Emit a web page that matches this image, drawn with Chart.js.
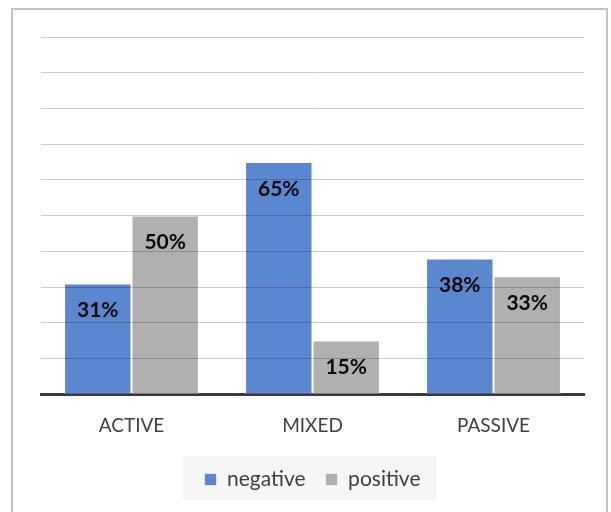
<!DOCTYPE html>
<html>
<head>
<meta charset="utf-8">
<script src="https://cdn.jsdelivr.net/npm/chart.js@4"></script>
<style>
  html, body { margin: 0; padding: 0; background: #fff; }
  #wrap { position: relative; width: 611px; height: 512px; }
</style>
</head>
<body>
<div id="wrap"><canvas id="chart" width="611" height="512"></canvas></div>
<script>
const categories = ['ACTIVE', 'MIXED', 'PASSIVE'];
const negative = [31, 65, 38];
const positive = [50, 15, 33];

const frame = {
    id: 'frame',
    beforeDraw(chart) {
        const c = chart.ctx;
        c.save();
        c.fillStyle = '#fff';
        c.fillRect(0, 0, chart.width, chart.height);
        c.strokeStyle = '#c4c4c4';
        c.lineWidth = 2;
        c.strokeRect(12, 9, 595, 600);
        // legend background
        const lg = chart.legend;
        if (lg && lg.legendHitBoxes.length) {
            const boxes = lg.legendHitBoxes;
            const x0 = boxes[0].left - 22;
            const last = boxes[boxes.length - 1];
            const x1 = last.left + last.width + 16;
            c.fillStyle = '#f6f6f6';
            c.fillRect(x0, 456, x1 - x0, 44);
        }
        c.restore();
    }
};

const barLabels = {
    id: 'barLabels',
    afterDatasetsDraw(chart) {
        const c = chart.ctx;
        c.save();
        c.font = 'bold 21px Lato';
        c.fillStyle = '#0a0a0a';
        c.textAlign = 'center';
        c.textBaseline = 'middle';
        chart.data.datasets.forEach((ds, i) => {
            chart.getDatasetMeta(i).data.forEach((bar, j) => {
                c.fillText(ds.data[j] + '%', bar.x, bar.y + 27);
            });
        });
        c.restore();
    }
};

new Chart(document.getElementById('chart'), {
    type: 'bar',
    data: {
        labels: categories,
        datasets: [
            {
                label: 'negative',
                data: negative,
                backgroundColor: '#5b87d0',
                borderColor: 'rgba(255,255,255,0.6)',
                borderWidth: 1,
                categoryPercentage: 0.745,
                barPercentage: 1
            },
            {
                label: 'positive',
                data: positive,
                backgroundColor: '#b0b0b0',
                borderColor: 'rgba(255,255,255,0.6)',
                borderWidth: 1,
                categoryPercentage: 0.745,
                barPercentage: 1
            }
        ]
    },
    options: {
        responsive: false,
        animation: false,
        layout: { padding: { left: 41, right: 27, top: 37, bottom: 12 } },
        plugins: {
            legend: {
                position: 'bottom',
                labels: {
                    color: '#404040',
                    font: { family: 'Lato', size: 21 },
                    boxWidth: 12,
                    boxHeight: 12,
                    padding: 20
                }
            },
            tooltip: { enabled: false }
        },
        scales: {
            x: {
                grid: { display: false },
                border: { color: '#404040', width: 3 },
                ticks: {
                    color: '#404040',
                    font: { family: 'Lato', size: 19 },
                    padding: 12
                }
            },
            y: {
                min: 0,
                max: 100,
                ticks: { display: false, stepSize: 10 },
                border: { display: false },
                grid: { color: 'rgba(0,0,0,0.2)', z: 1, drawTicks: false }
            }
        }
    },
    plugins: [frame, barLabels]
});
</script>
</body>
</html>
